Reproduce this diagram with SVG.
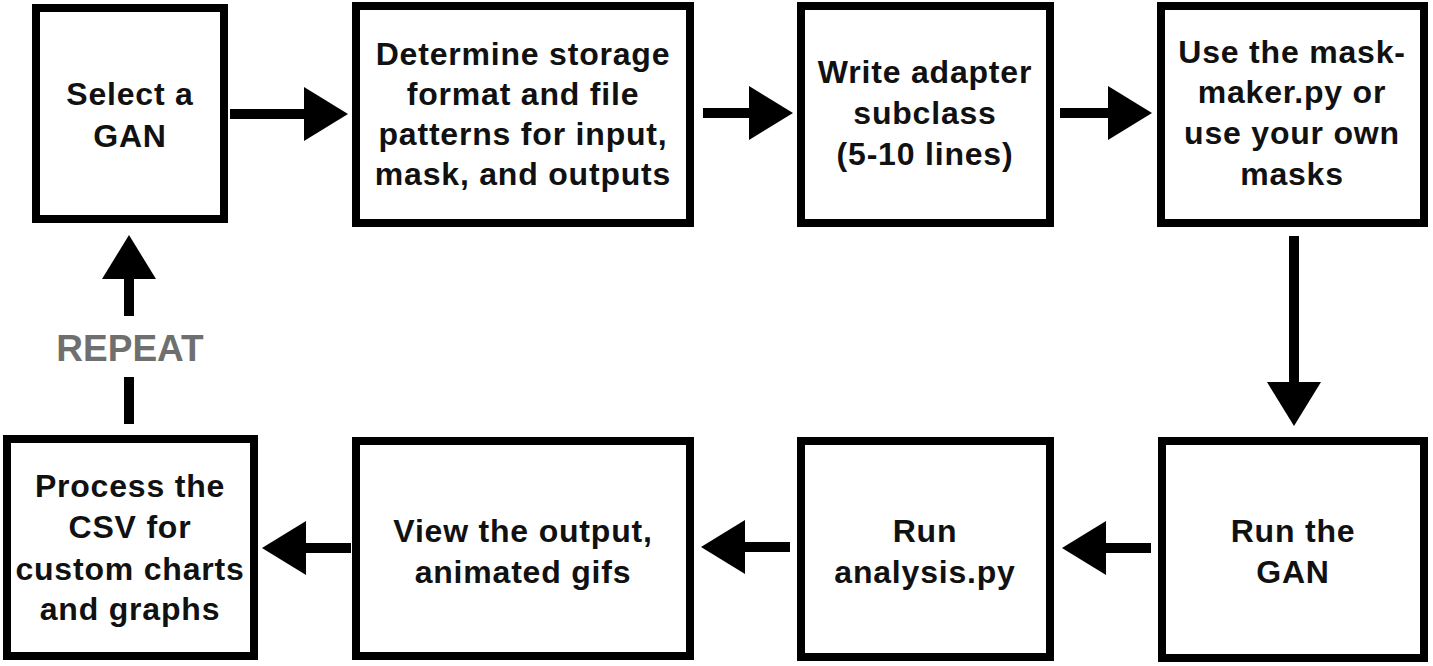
<svg xmlns="http://www.w3.org/2000/svg" width="1433" height="666" viewBox="0 0 1433 666">
<defs>
<style>
.box{fill:#fff;stroke:#000;stroke-width:8}
.t{font-family:"Liberation Sans",Arial,Helvetica,sans-serif;font-weight:bold;font-size:32px;letter-spacing:0.8px;fill:#111;text-anchor:middle}
.c{stroke:#000;stroke-width:10;fill:none}
.rep{font-family:"Liberation Sans",Arial,Helvetica,sans-serif;font-weight:bold;font-size:37px;fill:#6f6f6f;text-anchor:middle}
</style>
<marker id="ah" markerUnits="userSpaceOnUse" markerWidth="44" markerHeight="54" refX="1" refY="27" orient="auto">
<path d="M0,0 L44,27 L0,54 Z" fill="#000"/>
</marker>
</defs>
<rect width="1433" height="666" fill="#fff"/>
<g id="connectors">
<line class="c" x1="230" y1="114" x2="305" y2="114" marker-end="url(#ah)"/>
<line class="c" x1="703" y1="113" x2="750" y2="113" marker-end="url(#ah)"/>
<line class="c" x1="1060" y1="113" x2="1109" y2="113" marker-end="url(#ah)"/>
<line class="c" x1="1294" y1="236" x2="1294" y2="383" marker-end="url(#ah)"/>
<line class="c" x1="1151" y1="548" x2="1105" y2="548" marker-end="url(#ah)"/>
<line class="c" x1="790" y1="547" x2="744" y2="547" marker-end="url(#ah)"/>
<line class="c" x1="351" y1="548" x2="305" y2="548" marker-end="url(#ah)"/>
<line class="c" x1="129" y1="424" x2="129" y2="377"/>
<line class="c" x1="129" y1="316" x2="129" y2="278" marker-end="url(#ah)"/>
<text class="rep" x="130" y="361">REPEAT</text>
</g>
<g id="n1">
<rect class="box" x="36" y="8" width="188" height="211"/>
<text class="t" x="130" y="105">Select a</text>
<text class="t" x="130" y="147">GAN</text>
</g>
<g id="n2">
<rect class="box" x="356" y="6" width="334" height="217"/>
<text class="t" x="523" y="65">Determine storage</text>
<text class="t" x="523" y="105">format and file</text>
<text class="t" x="523" y="145">patterns for input,</text>
<text class="t" x="523" y="185">mask, and outputs</text>
</g>
<g id="n3">
<rect class="box" x="801" y="6" width="249" height="217"/>
<text class="t" x="925" y="83">Write adapter</text>
<text class="t" x="925" y="124">subclass</text>
<text class="t" x="925" y="165">(5-10 lines)</text>
</g>
<g id="n4">
<rect class="box" x="1161" y="6" width="263" height="217"/>
<text class="t" x="1292" y="63">Use the mask-</text>
<text class="t" x="1292" y="103">maker.py or</text>
<text class="t" x="1292" y="144">use your own</text>
<text class="t" x="1292" y="185">masks</text>
</g>
<g id="n5">
<rect class="box" x="1162" y="441" width="262" height="217"/>
<text class="t" x="1293" y="542">Run the</text>
<text class="t" x="1293" y="583">GAN</text>
</g>
<g id="n6">
<rect class="box" x="801" y="441" width="249" height="216"/>
<text class="t" x="925" y="542">Run</text>
<text class="t" x="925" y="583">analysis.py</text>
</g>
<g id="n7">
<rect class="box" x="356" y="441" width="334" height="215"/>
<text class="t" x="523" y="542">View the output,</text>
<text class="t" x="523" y="583">animated gifs</text>
</g>
<g id="n8">
<rect class="box" x="7" y="439" width="247" height="217"/>
<text class="t" x="130" y="497">Process the</text>
<text class="t" x="130" y="538">CSV for</text>
<text class="t" x="130" y="580">custom charts</text>
<text class="t" x="130" y="620">and graphs</text>
</g>
</svg>
